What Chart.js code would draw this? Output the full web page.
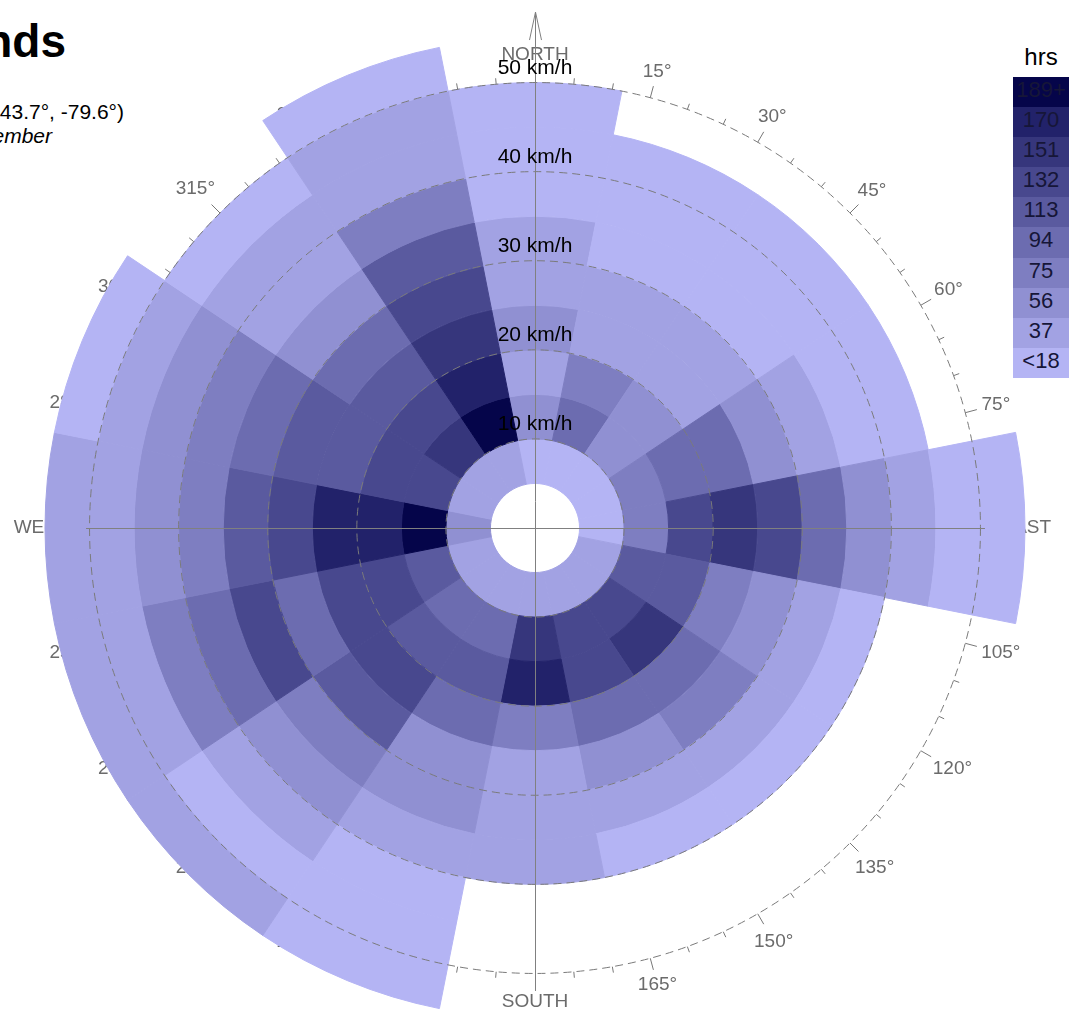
<!DOCTYPE html>
<html>
<head>
<meta charset="utf-8">
<script src="https://cdn.jsdelivr.net/npm/chart.js@4.4.0/dist/chart.umd.min.js"></script>
<style>
  html, body { margin: 0; padding: 0; width: 1077px; height: 1011px; overflow: hidden; background: #fff; font-family: Arial, "Liberation Sans", sans-serif; }
  .stack { position: absolute; left: 5px; top: -2px; width: 1060px; height: 1060px; }
  .stack canvas { position: absolute; left: 0; top: 0; }
  #gridCanvas { pointer-events: none; }
  .txt { position: absolute; white-space: nowrap; text-align: right; color: #000; }
  #title { right: 1011px; top: 18px; font: bold 46px/46px Arial, sans-serif; }
  #coords { right: 953px; top: 101px; font: 21px/21px Arial, sans-serif; }
  #period { right: 1025px; top: 125px; font: italic 21px/21px Arial, sans-serif; }
  #legend { position: absolute; left: 1013px; top: 45px; width: 56px; }
  #legend .hdr { text-align: center; font: 24px/24px Arial, sans-serif; height: 32px; color: #000; }
  #legend .bin { height: 30.1px; line-height: 30px; text-align: center; font: 22px Arial, sans-serif; color: #161638; }
</style>
</head>
<body>
<div class="txt" id="title">nds</div>
<div class="txt" id="coords">43.7°, -79.6°)</div>
<div class="txt" id="period">ember</div>
<div id="legend"><div class="hdr">hrs</div><div id="bins"></div></div>
<div class="stack">
  <canvas id="roseCanvas" width="1060" height="1060"></canvas>
  <canvas id="gridCanvas" width="1060" height="1060"></canvas>
</div>
<script>
// 16 direction sectors, clockwise from north
const directions = ['N', 'NNE', 'NE', 'ENE', 'E', 'ESE', 'SE', 'SSE', 'S', 'SSW', 'SW', 'WSW', 'W', 'WNW', 'NW', 'NNW'];

// hours per sector, one array per 5 km/h speed ring (null = no ring there)
const ring05_10 = [12, 9, 11, 14, 13, 24, 27, 30, 33, 29, 26, 25, 44, 31, 35, 28];
const ring10_15 = [48, 86, 45, 67, 70, 104, 121, 118, 140, 82, 88, 101, 205, 125, 139, 198];
const ring15_20 = [27, 64, 50, 84, 126, 107, 144, 127, 163, 99, 103, 124, 166, 120, 126, 160];
const ring20_25 = [43, 33, 30, 87, 142, 69, 83, 80, 64, 85, 122, 118, 158, 106, 100, 146];
const ring25_30 = [31, 26, 24, 46, 119, 49, 65, 52, 35, 42, 98, 84, 121, 102, 89, 128];
const ring30_35 = [25, 14, 12, 30, 81, 28, 23, 26, 22, 40, 62, 117, 108, 82, 47, 110];
const ring35_40 = [15, 10, 8, 16, 45, 13, 11, 9, 24, 29, 48, 86, 70, 63, 32, 66];
const ring40_45 = [11, 6, 5, 9, 27, null, null, null, null, 14, 30, 61, 52, 44, 23, 33];
const ring45_50 = [7, null, null, null, 17, null, null, null, null, 10, 12, 34, 28, 25, 13, 24];
const ring50_55 = [null, null, null, null, 8, null, null, null, null, 6, 20, 22, 30, 11, null, 9];

const rings = [ring05_10, ring10_15, ring15_20, ring20_25, ring25_30, ring30_35, ring35_40, ring40_45, ring45_50, ring50_55];

const calmKmh = 5;
const maxKmh = 55;
const speedTicks = [10, 20, 30, 40, 50];

// colour legend (hours)
const hourLabels = ['<18', '37', '56', '75', '94', '113', '132', '151', '170', '189+'];
const binColors = ['#b4b4f4', '#a2a2e3', '#9090d2', '#7e7ec1', '#6c6cb0', '#5a5a9f', '#48488e', '#36367c', '#22226a', '#05054a'];
const binWidth = 18.9;

const compassNames = ['NORTH', 'EAST', 'SOUTH', 'WEST'];
const degreeLabels = [15, 30, 45, 60, 75, 105, 120, 135, 150, 165, 195, 210, 225, 240, 255, 285, 300, 315, 330, 345];

const OUTER_PX = 490;
const CANVAS_PX = 1060;

function colorFor(h) {
    if (h === null) return 'rgba(0,0,0,0)';
    return binColors[Math.min(binColors.length - 1, Math.floor(h / binWidth))];
}

// legend
const binsEl = document.getElementById('bins');
for (let i = hourLabels.length - 1; i >= 0; i--) {
    const d = document.createElement('div');
    d.className = 'bin';
    d.style.background = binColors[i];
    d.textContent = hourLabels[i];
    binsEl.appendChild(d);
}

function labelAt(ctx, text, deg, cx, cy, r0) {
    const a = deg * Math.PI / 180;
    const ux = Math.sin(a), uy = -Math.cos(a);
    const w = ctx.measureText(text).width;
    const h = 14;
    const r = r0 + Math.abs(ux) * w / 2 + Math.abs(uy) * h / 2;
    ctx.fillText(text, cx + ux * r, cy + uy * r);
}

// ticks + degree/compass labels sit under the cells
const framePlugin = {
    id: 'roseFrame',
    beforeDatasetsDraw(chart) {
        const ctx = chart.ctx;
        const arc = chart.getDatasetMeta(0).data[0];
        const cx = arc.x, cy = arc.y;
        const pxPerKmh = chart.getDatasetMeta(0).controller.outerRadius / maxKmh;
        const r50 = 50 * pxPerKmh;
        ctx.save();
        ctx.strokeStyle = '#777';
        ctx.lineWidth = 1;
        for (let deg = 0; deg < 360; deg += 5) {
            if (deg % 90 === 0) continue;
            const len = deg % 15 === 0 ? 12 : 6;
            const a = deg * Math.PI / 180;
            ctx.beginPath();
            ctx.moveTo(cx + Math.sin(a) * r50, cy - Math.cos(a) * r50);
            ctx.lineTo(cx + Math.sin(a) * (r50 + len), cy - Math.cos(a) * (r50 + len));
            ctx.stroke();
        }
        ctx.fillStyle = '#6b6b6b';
        ctx.textAlign = 'center';
        ctx.textBaseline = 'middle';
        ctx.font = '19px Arial';
        degreeLabels.forEach(deg => labelAt(ctx, deg + '°', deg, cx, cy, r50 + 16));
        compassNames.forEach((name, i) => labelAt(ctx, name, i * 90, cx, cy, r50 + 21));
        ctx.restore();
    }
};

// outermost ring first for the doughnut
const datasets = rings.slice().reverse().map(hours => ({
    data: hours.map(() => 1),
    backgroundColor: hours.map(colorFor),
    borderColor: hours.map(colorFor),
    borderWidth: 1
}));

new Chart(document.getElementById('roseCanvas'), {
    type: 'doughnut',
    data: { labels: directions, datasets: datasets },
    options: {
        responsive: false,
        animation: false,
        events: [],
        rotation: -11.25,
        radius: OUTER_PX,
        cutout: (calmKmh / maxKmh * 100) + '%',
        plugins: { legend: { display: false }, tooltip: { enabled: false } }
    },
    plugins: [framePlugin]
});

// crosshair, arrow and speed labels on top
const overlayPlugin = {
    id: 'roseOverlay',
    afterDraw(chart) {
        const s = chart.scales.r;
        const ctx = chart.ctx;
        const cx = s.xCenter + 0.5, cy = s.yCenter + 0.5;
        const r50 = s.getDistanceFromCenterForValue(50);
        ctx.save();
        ctx.strokeStyle = '#808080';
        ctx.lineWidth = 1;
        ctx.beginPath();
        ctx.moveTo(cx, cy - (r50 + 71));
        ctx.lineTo(cx, cy + r50 + 17);
        ctx.moveTo(cx - r50 - 4, cy);
        ctx.lineTo(cx + r50 + 4, cy);
        ctx.moveTo(cx - 6, cy - (r50 + 43));
        ctx.lineTo(cx, cy - (r50 + 71));
        ctx.lineTo(cx + 6, cy - (r50 + 43));
        ctx.stroke();

        ctx.fillStyle = '#000';
        ctx.font = '21px Arial';
        ctx.textAlign = 'center';
        ctx.textBaseline = 'alphabetic';
        speedTicks.forEach(v => {
            const r = s.getDistanceFromCenterForValue(v);
            ctx.fillText(v + ' km/h', s.xCenter, s.yCenter - r - 9);
        });
        ctx.restore();
    }
};

new Chart(document.getElementById('gridCanvas'), {
    type: 'radar',
    data: { labels: [], datasets: [] },
    options: {
        responsive: false,
        animation: false,
        events: [],
        plugins: { legend: { display: false }, tooltip: { enabled: false } },
        scales: {
            r: {
                min: 0,
                max: maxKmh * (CANVAS_PX / 2) / OUTER_PX,
                ticks: { display: false, stepSize: 10 },
                afterBuildTicks: axis => {
                    axis.ticks = axis.ticks.filter(t => t.value === 0 || speedTicks.includes(t.value));
                },
                grid: { circular: true, color: '#7a7a7a', lineWidth: 1 },
                border: { dash: [8, 5] },
                angleLines: { display: false },
                pointLabels: { display: false }
            }
        }
    },
    plugins: [overlayPlugin]
});
</script>
</body>
</html>
